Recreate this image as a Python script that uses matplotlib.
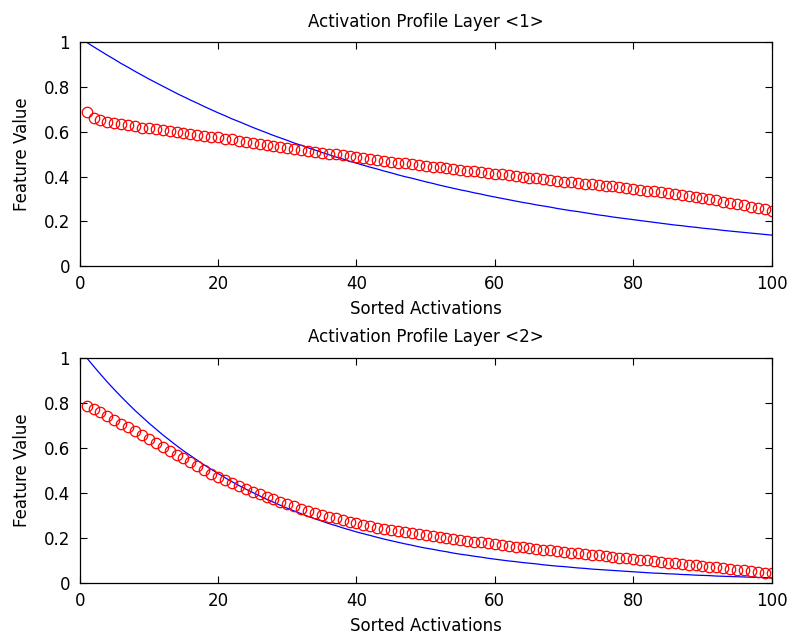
import matplotlib
matplotlib.use('Agg')
import matplotlib.pyplot as plt

# sorted activation index
idx = list(range(1, 101))

# layer 1
layer1_line = [1.000, .980, .961, .942, .924, .905, .888, .870, .853, .836,
               .820, .804, .788, .772, .757, .742, .728, .713, .699, .685,
               .672, .658, .646, .633, .620, .608, .596, .584, .573, .562,
               .550, .540, .529, .519, .508, .498, .488, .479, .469, .460,
               .451, .442, .434, .425, .417, .408, .400, .393, .385, .377,
               .370, .362, .355, .348, .341, .335, .328, .322, .315, .309,
               .303, .297, .291, .285, .280, .274, .269, .264, .258, .253,
               .248, .244, .239, .234, .229, .225, .220, .216, .212, .208,
               .204, .200, .196, .192, .188, .184, .181, .177, .174, .170,
               .167, .164, .160, .157, .154, .151, .148, .145, .142, .139]
layer1_circ = [.688, .663, .653, .646, .640, .634, .629, .624, .619, .615,
               .611, .607, .603, .599, .595, .591, .587, .583, .579, .575,
               .570, .566, .561, .556, .552, .547, .542, .538, .533, .528,
               .524, .520, .515, .511, .507, .503, .499, .495, .490, .486,
               .482, .478, .475, .471, .467, .463, .459, .456, .452, .448,
               .445, .441, .438, .434, .431, .427, .424, .420, .417, .413,
               .410, .406, .403, .399, .396, .392, .389, .385, .382, .378,
               .375, .372, .368, .365, .362, .359, .356, .352, .349, .346,
               .342, .338, .334, .330, .326, .322, .317, .313, .308, .304,
               .299, .294, .289, .283, .278, .272, .266, .260, .254, .247]

# layer 2
layer2_line = [1.000, .963, .927, .892, .859, .827, .796, .766, .738, .710,
               .684, .658, .634, .610, .587, .566, .545, .524, .505, .486,
               .468, .450, .433, .417, .402, .387, .372, .359, .345, .332,
               .320, .308, .296, .285, .275, .264, .255, .245, .236, .227,
               .219, .211, .203, .195, .188, .181, .174, .168, .161, .155,
               .150, .144, .139, .133, .128, .124, .119, .115, .110, .106,
               .102, .098, .095, .091, .088, .085, .081, .078, .075, .073,
               .070, .067, .065, .062, .060, .058, .056, .054, .052, .050,
               .048, .046, .044, .043, .041, .040, .038, .037, .035, .034,
               .033, .031, .030, .029, .028, .027, .026, .025, .024, .023]
layer2_circ = [.788, .773, .758, .742, .725, .708, .691, .674, .657, .640,
               .622, .605, .587, .570, .553, .536, .519, .502, .486, .470,
               .456, .443, .430, .417, .405, .394, .382, .371, .360, .350,
               .340, .330, .321, .312, .303, .295, .287, .279, .272, .265,
               .259, .253, .246, .240, .235, .230, .225, .221, .216, .212,
               .208, .204, .200, .196, .192, .188, .184, .180, .177, .173,
               .169, .166, .162, .159, .155, .152, .148, .145, .141, .138,
               .135, .132, .129, .126, .123, .119, .116, .113, .110, .107,
               .104, .101, .098, .094, .091, .088, .085, .082, .078, .075,
               .072, .069, .065, .062, .059, .056, .053, .050, .046, .043]

plt.rcParams['font.family'] = ['DejaVu Sans']
plt.rcParams['font.size'] = 12

fig = plt.figure(figsize=(7.89, 6.4), dpi=100)
ax1 = fig.add_axes([0.101, 0.584, 0.877, 0.350])
ax2 = fig.add_axes([0.101, 0.089, 0.877, 0.352])

layers = [(ax1, layer1_line, layer1_circ, 'Activation Profile Layer <1>'),
          (ax2, layer2_line, layer2_circ, 'Activation Profile Layer <2>')]

for ax, line, circ, title in layers:
    ax.plot(idx, line, color='#0000ff', lw=0.9)
    ax.plot(idx, circ, 'o', mfc='none', mec='#ff0000', ms=7.5, mew=0.9)
    ax.set_xlim(0, 100)
    ax.set_ylim(0, 1)
    ax.set_xticks([0, 20, 40, 60, 80, 100])
    ax.set_yticks([0, 0.2, 0.4, 0.6, 0.8, 1])
    ax.set_yticklabels(['0', '0.2', '0.4', '0.6', '0.8', '1'])
    ax.tick_params(direction='in', length=5, width=0.8, top=True, right=True)
    ax.tick_params(axis='x', pad=6.5)
    ax.tick_params(axis='y', pad=7)
    for s in ax.spines.values():
        s.set_linewidth(0.9)
    ax.set_title(title, fontsize=12, pad=11)
    ax.set_xlabel('Sorted Activations', labelpad=5)
    ax.set_ylabel('Feature Value', labelpad=9)

fig.savefig('out.png', dpi=100)
